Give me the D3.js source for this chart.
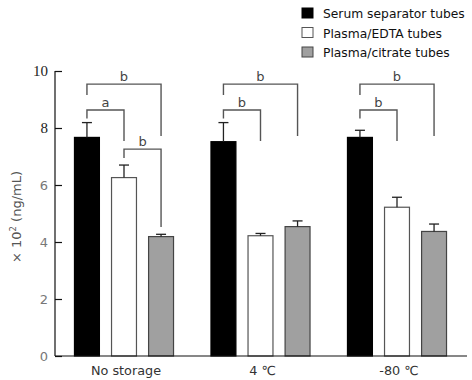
<!DOCTYPE html>
<html>
<head>
<meta charset="utf-8">
<script src="https://cdn.jsdelivr.net/npm/d3@7"></script>
<style>
  body { margin: 0; background: #fff; }
  svg text { font-family: "DejaVu Sans", sans-serif; }
</style>
</head>
<body>
<div id="chart"></div>
<script>
// data (x 10^2 ng/mL)
var groups = ["No storage", "4 \u2103", "-80 \u2103"];
var series = ["Serum separator tubes", "Plasma/EDTA tubes", "Plasma/citrate tubes"];
var serumMean   = [7.67, 7.52, 7.67];
var serumErr    = [0.52, 0.67, 0.25];
var edtaMean    = [6.26, 4.22, 5.22];
var edtaErr     = [0.44, 0.08, 0.35];
var citrateMean = [4.19, 4.54, 4.37];
var citrateErr  = [0.08, 0.20, 0.26];
var yTicks = [0, 2, 4, 6, 8, 10];

// significance brackets: group, from series, to series, top, left end, right end, label
var brackets = [
  {g: 0, a: 0, b: 2, top: 9.54, l: 9.16, r: 7.72, label: "b"},
  {g: 0, a: 0, b: 1, top: 8.63, l: 8.33, r: 7.54, label: "a"},
  {g: 0, a: 1, b: 2, top: 7.26, l: 6.95, r: 4.53, label: "b"},
  {g: 1, a: 0, b: 2, top: 9.54, l: 9.16, r: 7.72, label: "b"},
  {g: 1, a: 0, b: 1, top: 8.63, l: 8.33, r: 7.54, label: "b"},
  {g: 2, a: 0, b: 2, top: 9.54, l: 9.16, r: 7.72, label: "b"},
  {g: 2, a: 0, b: 1, top: 8.63, l: 8.33, r: 7.54, label: "b"}
];

var colors = ["#000000", "#ffffff", "#a0a0a0"];
var strokes = ["#000000", "#555555", "#444444"];

var means = [serumMean, edtaMean, citrateMean];
var errs = [serumErr, edtaErr, citrateErr];

var data = [];
groups.forEach(function(g, gi) {
  series.forEach(function(s, si) {
    data.push({group: g, gi: gi, series: s, si: si, mean: means[si][gi], err: errs[si][gi]});
  });
});

var width = 472, height = 380;

var svg = d3.select("#chart").append("svg")
    .attr("width", width)
    .attr("height", height);

// scales
var x0 = d3.scaleBand().domain(groups).range([55, 466])
    .paddingInner(0.267).paddingOuter(0.139);
var x1 = d3.scaleBand().domain(series).range([0, x0.bandwidth()])
    .paddingInner(0.3).paddingOuter(0);
var y = d3.scaleLinear().domain([0, 10]).range([356, 71]);

function cx(gi, si) {
  return x0(groups[gi]) + x1(series[si]) + x1.bandwidth() / 2;
}

// bars
svg.selectAll("rect.bar")
  .data(data)
  .enter().append("rect")
    .attr("class", "bar")
    .attr("x", function(d) { return x0(d.group) + x1(d.series) + 0.5; })
    .attr("y", function(d) { return y(d.mean); })
    .attr("width", x1.bandwidth() - 1)
    .attr("height", function(d) { return y(0) - y(d.mean); })
    .attr("fill", function(d) { return colors[d.si]; })
    .attr("stroke", function(d) { return strokes[d.si]; })
    .attr("stroke-width", 1.2);

// error bars
var eb = svg.selectAll("g.err")
  .data(data)
  .enter().append("g")
    .attr("class", "err")
    .attr("stroke", "#222")
    .attr("stroke-width", 1.3);
eb.append("line")
    .attr("x1", function(d) { return cx(d.gi, d.si); })
    .attr("x2", function(d) { return cx(d.gi, d.si); })
    .attr("y1", function(d) { return y(d.mean); })
    .attr("y2", function(d) { return y(d.mean + d.err); });
eb.append("line")
    .attr("x1", function(d) { return cx(d.gi, d.si) - 5; })
    .attr("x2", function(d) { return cx(d.gi, d.si) + 5; })
    .attr("y1", function(d) { return y(d.mean + d.err); })
    .attr("y2", function(d) { return y(d.mean + d.err); });

// brackets
var br = svg.selectAll("g.bracket")
  .data(brackets)
  .enter().append("g")
    .attr("class", "bracket");
br.append("path")
    .attr("fill", "none")
    .attr("stroke", "#555")
    .attr("stroke-width", 1.4)
    .attr("d", function(d) {
      var xa = cx(d.g, d.a), xb = cx(d.g, d.b);
      return "M" + xa + "," + y(d.l) + "V" + y(d.top) + "H" + xb + "V" + y(d.r);
    });
br.append("text")
    .attr("x", function(d) { return (cx(d.g, d.a) + cx(d.g, d.b)) / 2; })
    .attr("y", function(d) { return y(d.top) - 3; })
    .attr("text-anchor", "middle")
    .attr("font-size", "13px")
    .attr("fill", "#444")
    .text(function(d) { return d.label; });

// y axis
var yAxis = svg.append("g")
    .attr("transform", "translate(55,0)")
    .call(d3.axisRight(y).tickValues(yTicks).tickSize(7).tickFormat(d3.format("d")));
yAxis.select(".domain").attr("stroke", "#111").attr("stroke-width", 1.2).attr("d", "M0," + y(10) + "V" + y(0));
yAxis.selectAll(".tick line").attr("stroke", "#111").attr("stroke-width", 1.2);
yAxis.selectAll(".tick text")
    .attr("x", -7)
    .attr("text-anchor", "end")
    .style("font-family", function(d) { return d >= 8 ? "'Liberation Serif', serif" : "'DejaVu Sans', sans-serif"; })
    .attr("font-size", function(d) { return d >= 8 ? "15px" : "13px"; })
    .attr("fill", function(d) { return d >= 8 ? "#222" : "#777"; });

// x axis line
svg.append("line")
    .attr("x1", 55).attr("x2", 467)
    .attr("y1", y(0)).attr("y2", y(0))
    .attr("stroke", "#111").attr("stroke-width", 1.2);

// group labels
svg.selectAll("text.group")
  .data(groups)
  .enter().append("text")
    .attr("class", "group")
    .attr("x", function(d) { return x0(d) + x0.bandwidth() / 2 + 2; })
    .attr("y", 375)
    .attr("text-anchor", "middle")
    .attr("font-size", "12.8px")
    .attr("fill", "#333")
    .text(function(d) { return d; });

// y axis title
var yt = svg.append("text")
    .attr("transform", "translate(21,217) rotate(-90)")
    .attr("text-anchor", "middle")
    .attr("font-size", "13px")
    .attr("fill", "#555");
yt.append("tspan").text("\u00d7 10");
yt.append("tspan").attr("dy", -5).attr("font-size", "8.5px").text("2");
yt.append("tspan").attr("dy", 5).text(" (ng/mL)");

// legend
var lg = svg.selectAll("g.legend")
  .data(series)
  .enter().append("g")
    .attr("class", "legend")
    .attr("transform", function(d, i) { return "translate(302," + (8 + i * 19.5) + ")"; });
lg.append("rect")
    .attr("width", 11).attr("height", 10)
    .attr("fill", function(d, i) { return colors[i]; })
    .attr("stroke", function(d, i) { return strokes[i]; })
    .attr("stroke-width", 1);
lg.append("text")
    .attr("x", 21).attr("y", 10)
    .attr("font-size", "12.3px")
    .attr("fill", "#111")
    .text(function(d) { return d; });
</script>
</body>
</html>
